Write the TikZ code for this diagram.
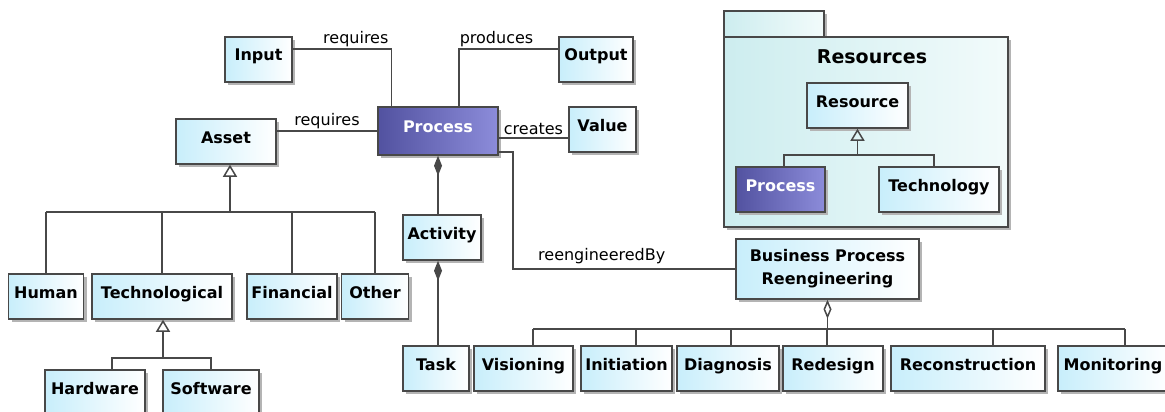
\documentclass[tikz,border=0pt]{standalone}
\usepackage{fontspec}
\setsansfont{DejaVu Sans}
\usetikzlibrary{arrows.meta,shadows}

\definecolor{lineGray}{HTML}{484848}
\definecolor{clsBlue}{HTML}{C8EEFB}
\definecolor{procDark}{HTML}{5252A0}
\definecolor{procLight}{HTML}{8C8CDA}
\definecolor{pkgCyan}{HTML}{CDEDEF}
\definecolor{pkgLight}{HTML}{F2FBFB}
\definecolor{shadowGray}{HTML}{B4B4B4}

\tikzset{
  box/.style={draw=lineGray, line width=1.5pt, left color=clsBlue, right color=white,
    font=\sffamily\bfseries\fontsize{16}{23}\selectfont, inner sep=0pt, minimum height=45pt,
    drop shadow={shadow xshift=3pt, shadow yshift=-3pt, fill=shadowGray, opacity=1}},
  cls/.style={box, text height=12pt, text depth=9pt},
  proc/.style={cls, left color=procDark, right color=procLight, text=white},
  pkg/.style={draw=lineGray, line width=1.5pt, left color=pkgCyan, right color=pkgLight,
    drop shadow={shadow xshift=3pt, shadow yshift=-3pt, fill=shadowGray, opacity=1}},
  lbl/.style={font=\sffamily\fontsize{16}{18}\selectfont, inner sep=1pt},
  conn/.style={draw=lineGray, line width=1.5pt},
  gen/.style={conn, {Triangle[open, length=12pt, width=14pt]}-},
  comp/.style={conn, {Diamond[length=20pt, width=8pt]}-},
  aggr/.style={conn, {Diamond[open, length=19pt, width=8pt]}-}
}

\begin{document}
\begin{tikzpicture}[x=1pt,y=-1pt]
\useasboundingbox (0,0) rectangle (1165,412);
\fill[white] (0,0) rectangle (1165,412);

% package Resources
\draw[pkg] (724,11) rectangle (824,37);
\draw[pkg] (724,37) rectangle (1008,227);
\node[font=\sffamily\bfseries\fontsize{19}{22}\selectfont] (pkgtitle) at (872,57) {Resources};
\node[cls, minimum width=101pt] (res) at (857.5,105.5) {Resource};
\node[proc, minimum width=89pt] (pin) at (780.5,189.5) {Process};
\node[cls, minimum width=120pt] (tec) at (939,189.5) {Technology};

% classes
\node[cls, minimum width=67pt] (inp) at (258.5,59.5) {Input};
\node[cls, minimum width=74pt] (out) at (596,59.5) {Output};
\node[proc, minimum width=120pt, minimum height=48pt] (proc) at (438,131) {Process};
\node[cls, minimum width=67pt] (val) at (602.5,129.5) {Value};
\node[cls, minimum width=100pt] (asset) at (226,141.5) {Asset};
\node[cls, minimum width=78pt] (act) at (442,237.5) {Activity};
\node[cls, minimum width=66pt] (task) at (436,368.5) {Task};
\node[box, minimum width=183pt, minimum height=60pt, align=center] (bpr) at (827.5,269) {Business Process\\Reengineering};

\node[cls, minimum width=75pt] (hum) at (46,296.5) {Human};
\node[cls, minimum width=140pt] (tech) at (162,296.5) {Technological};
\node[cls, minimum width=90pt] (fin) at (292,296.5) {Financial};
\node[cls, minimum width=67pt] (oth) at (375,296.5) {Other};
\node[cls, minimum width=100pt] (hard) at (95,392.5) {Hardware};
\node[cls, minimum width=96pt] (soft) at (211,392.5) {Software};

\node[cls, minimum width=99pt] (vis) at (523.5,368.5) {Visioning};
\node[cls, minimum width=91pt] (ini) at (626.5,368.5) {Initiation};
\node[cls, minimum width=102pt] (dia) at (728,368.5) {Diagnosis};
\node[cls, minimum width=100pt] (red) at (833,368.5) {Redesign};
\node[cls, minimum width=154pt] (rec) at (968,368.5) {Reconstruction};
\node[cls, minimum width=110pt] (mon) at (1113,368.5) {Monitoring};

% associations
\draw[conn] ([yshift=10.5pt]inp.east) -| node[lbl, pos=0.32, above] {requires} ([xshift=14pt]proc.north west);
\draw[conn] (proc.west) -- node[lbl, above] {requires} (proc.west -| asset.east);
\draw[conn] ([xshift=21pt]proc.north) |- node[lbl, pos=0.5, above right, inner xsep=0pt] {produces} ([yshift=10.5pt]out.west);
\draw[conn] ([yshift=-7pt]proc.east) -- node[lbl, above=2pt] {creates} ([yshift=-7pt]proc.east -| val.west);
\draw[conn] ([yshift=-21pt]proc.east) -- ++(14pt,0) |- node[lbl, pos=0.7, above=3pt] {reengineeredBy} (bpr.west);

% composition
\draw[comp] (proc.south) -- (proc.south |- act.north);
\draw[comp] (proc.south |- act.south) -- (proc.south |- task.north);

% generalization of Asset
\coordinate (abus) at (230,212);
\draw[gen] (asset.south -| abus) -- (abus);
\draw[conn] (hum.north |- abus) -- (oth.north |- abus);
\foreach \n in {hum,tech,fin,oth}
  \draw[conn] (\n.north) -- (\n.north |- abus);

\coordinate (tbus) at (163,358);
\draw[gen] (tech.south -| tbus) -- (tbus);
\draw[conn] ([xshift=17pt]hard.north) |- (soft.north |- tbus) -- (soft.north);

\coordinate (rbus) at (857,155);
\draw[gen] (res.south) -- (res.south |- rbus);
\draw[conn] ([xshift=3.5pt]pin.north) |- ([xshift=-5pt]tec.north |- rbus) -- ([xshift=-5pt]tec.north);

% aggregation of BPR phases
\coordinate (pbus) at (827,329);
\draw[aggr] (bpr.south) -- (bpr.south |- pbus);
\draw[conn] ([xshift=9.5pt]vis.north |- pbus) -- ([xshift=12pt]mon.north |- pbus);
\foreach \n/\s in {vis/9.5,ini/9.5,dia/3,red/-6,rec/25,mon/12}
  \draw[conn] ([xshift=\s pt]\n.north) -- ([xshift=\s pt]\n.north |- pbus);
\end{tikzpicture}
\end{document}
